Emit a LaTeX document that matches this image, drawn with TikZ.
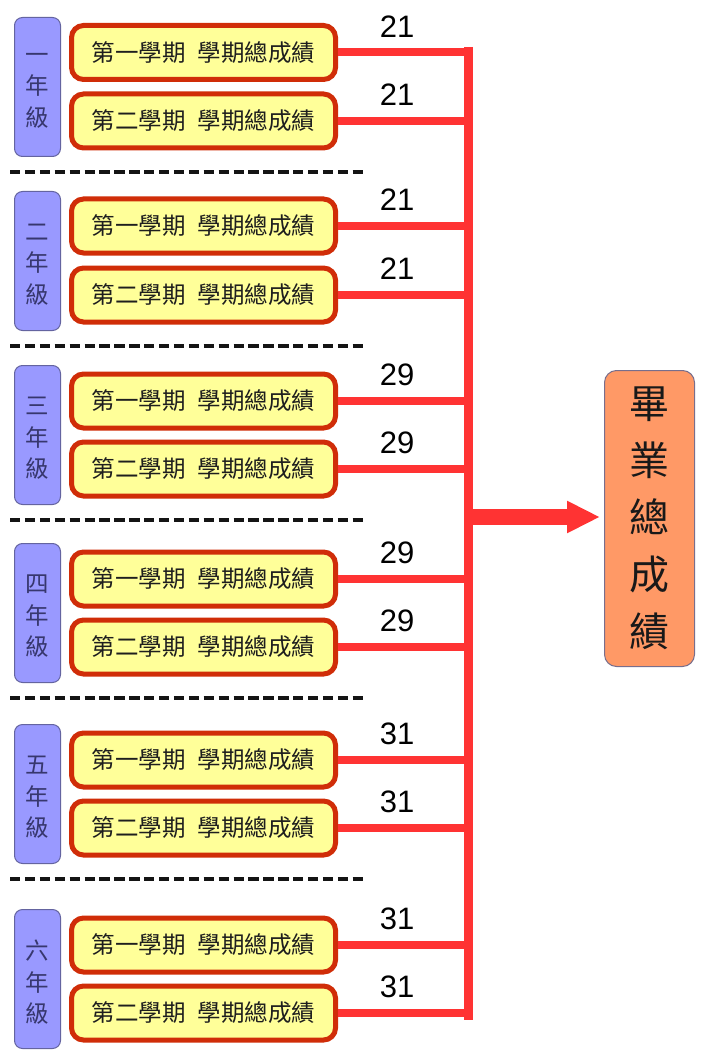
\documentclass[tikz,border=0pt]{standalone}
\usepackage{fontspec}
\setmainfont{Liberation Sans}
\newfontfamily\cjk{Noto Sans CJK TC}
\usetikzlibrary{arrows.meta}
\definecolor{gradefill}{RGB}{153,153,255}
\definecolor{gradeborder}{RGB}{100,100,160}
\definecolor{gradetext}{RGB}{55,55,110}
\definecolor{semfill}{RGB}{255,255,153}
\definecolor{semborder}{RGB}{208,45,8}
\definecolor{semtext}{RGB}{30,30,30}
\definecolor{feedred}{RGB}{255,51,51}
\definecolor{resfill}{RGB}{255,153,102}
\definecolor{resborder}{RGB}{120,110,140}
\begin{document}
\begin{tikzpicture}[x=1pt,y=-1pt,
  gradebox/.style={draw=gradeborder, fill=gradefill, line width=1pt, rounded corners=8pt,
    minimum width=46pt, minimum height=139pt, inner sep=0pt},
  gradetxt/.style={inner sep=0pt, align=center,
    font=\cjk\fontsize{23.5}{31.5}\selectfont, text=gradetext},
  sembox/.style={draw=semborder, fill=semfill, line width=5pt, rounded corners=12pt,
    minimum width=264pt, minimum height=54pt, inner sep=0pt,
    font=\cjk\fontsize{23.5}{28}\selectfont, text=semtext},
  resbox/.style={draw=resborder, fill=resfill, line width=1pt, rounded corners=12pt,
    minimum width=90pt, minimum height=296pt, inner sep=0pt, align=center,
    font=\cjk\fontsize{40}{57}\selectfont, text=black!90},
  num/.style={font=\fontsize{31}{31}\selectfont, text=black, inner sep=0pt},
  feed/.style={draw=feedred, line width=8pt},
  trunk/.style={draw=feedred, line width=9pt},
  bigarrow/.style={draw=feedred, line width=16pt, -{Triangle[length=33pt,width=30pt]}},
  sepline/.style={draw=black!92, line width=4pt, dash pattern=on 10.3pt off 4.6pt}
]
\useasboundingbox (0,0) rectangle (705,1059);
\fill[white] (0,0) rectangle (705,1059);

\coordinate (ttop) at (468,47);
\coordinate (tbot) at (468,1020);
\draw[trunk] (ttop) -- (tbot);

\foreach \g/\c/\gy/\ya/\yb/\n in {1/一/87/52.5/121/21, 2/二/261/226/295/21, 3/三/435/401/469/29, 4/四/613/579/647/29, 5/五/794/760/828/31, 6/六/979/945/1013/31}{
  \node[gradebox] (g\g) at (37.5,\gy) {};
  \node[gradetxt] (gt\g) at (37.5,\gy+3.5) {\c\\年\\級};
  \node[sembox] (s\g-1) at (203.5,\ya) {第一學期\hspace{0.5em}學期總成績};
  \node[sembox] (s\g-2) at (203.5,\yb) {第二學期\hspace{0.5em}學期總成績};
  \draw[feed] (s\g-1.east) -- (s\g-1.east -| ttop);
  \draw[feed] (s\g-2.east) -- (s\g-2.east -| ttop);
  \node[num] (n\g-1) at (397,\ya-26) {\n};
  \node[num] (n\g-2) at (397,\yb-26) {\n};
}

\foreach \y in {172,346,520,698,879}{
  \draw[sepline] (10,\y) -- (363,\y);
}

\node[resbox] (res) at (649.5,518.5) {畢\\業\\總\\成\\績};
\coordinate (ajoin) at (468,517);
\draw[bigarrow] (ajoin) -- (ajoin -| res.west) [shorten >=4pt];
\end{tikzpicture}
\end{document}
